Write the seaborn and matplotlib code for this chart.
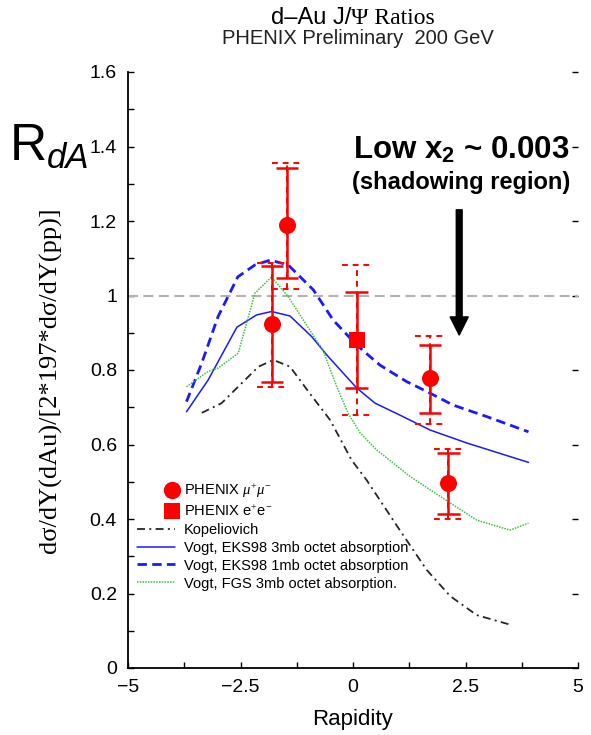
import numpy as np
import matplotlib
matplotlib.use("Agg")
import matplotlib.pyplot as plt
from matplotlib.lines import Line2D
from matplotlib.legend_handler import HandlerLine2D
import seaborn as sns

# ---------------- data ----------------
eks98_3mb_x = [-3.70, -3.22, -2.58, -2.14, -1.81, -1.40, -0.92, -0.58, 0.08, 0.49, 1.04, 1.71, 2.53, 3.90]
eks98_3mb_y = [0.688, 0.773, 0.915, 0.948, 0.957, 0.945, 0.890, 0.840, 0.752, 0.711, 0.679, 0.639, 0.604, 0.552]

eks98_1mb_x = [-3.70, -3.36, -3.00, -2.56, -2.18, -1.84, -1.44, -0.88, -0.44, 0.08, 0.60, 1.19, 1.71, 2.22, 2.97, 3.90]
eks98_1mb_y = [0.715, 0.819, 0.943, 1.050, 1.082, 1.095, 1.082, 1.015, 0.934, 0.867, 0.813, 0.769, 0.738, 0.706, 0.675, 0.634]

fgs_x = [-3.70, -3.22, -3.00, -2.55, -2.18, -1.81, -1.44, -0.96, -0.67, -0.36, -0.11, 0.16, 0.53, 1.27, 2.16, 2.75, 3.49, 3.90]
fgs_y = [0.755, 0.796, 0.805, 0.845, 1.006, 1.050, 0.997, 0.907, 0.854, 0.755, 0.684, 0.631, 0.585, 0.514, 0.443, 0.397, 0.370, 0.389]

kop_x = [-3.36, -2.92, -2.47, -2.10, -1.77, -1.40, -0.96, -0.51, -0.03, 0.30, 1.04, 1.64, 2.16, 2.75, 3.53]
kop_y = [0.685, 0.711, 0.765, 0.809, 0.827, 0.809, 0.737, 0.666, 0.558, 0.505, 0.370, 0.263, 0.193, 0.142, 0.115]

mu_x = [-1.80, -1.47, 1.71, 2.12]
mu_y = [0.924, 1.190, 0.778, 0.497]
mu_stat_lo = [0.768, 1.047, 0.684, 0.413]
mu_stat_hi = [1.079, 1.342, 0.867, 0.577]
mu_sys_lo = [0.754, 1.017, 0.655, 0.400]
mu_sys_hi = [1.087, 1.356, 0.891, 0.588]

ee_x = [0.08]
ee_y = [0.881]
ee_stat_lo = [0.752]
ee_stat_hi = [1.010]
ee_sys_lo = [0.679]
ee_sys_hi = [1.082]

x_ticks = [-5, -2.5, 0, 2.5, 5]
x_tick_labels = ["\u22125", "\u22122.5", "0", "2.5", "5"]
y_ticks = [0, 0.2, 0.4, 0.6, 0.8, 1.0, 1.2, 1.4, 1.6]
y_tick_labels = ["0", "0.2", "0.4", "0.6", "0.8", "1", "1.2", "1.4", "1.6"]

arrow_x = 2.36
arrow_top = 1.23
arrow_bottom = 0.894

legend_labels = [r"PHENIX $\mu^{+}\mu^{-}$", r"PHENIX e$^{+}$e$^{-}$", "Kopeliovich",
                 "Vogt, EKS98 3mb octet absorption", "Vogt, EKS98 1mb octet absorption",
                 "Vogt, FGS 3mb octet absorption."]

# ---------------- style ----------------
sns.set_theme(style="ticks")
plt.rcParams["font.family"] = ["Liberation Sans", "DejaVu Sans"]
plt.rcParams["mathtext.fontset"] = "custom"
plt.rcParams["mathtext.rm"] = "Liberation Serif"
plt.rcParams["mathtext.it"] = "Liberation Serif:italic"
plt.rcParams["mathtext.bf"] = "Liberation Sans:bold"

W, H = 591, 735
fig = plt.figure(figsize=(W / 100, H / 100), dpi=100)
fig.patch.set_facecolor("white")
ax = fig.add_axes([128 / W, 67 / H, 450 / W, 596 / H])
ax.set_facecolor("white")

RED = "#ff0000"
BLUE = "#1a1aff"
GREEN = "#40c040"
BLACK = "#262626"

# reference line
ax.axhline(1.0, color="#b3b3b3", lw=1.5, dashes=(4.8, 2.6), zorder=1)

# theory curves
sns.lineplot(x=kop_x, y=kop_y, ax=ax, color=BLACK, lw=1.3, sort=False, estimator=None, zorder=2)
ax.lines[-1].set_dashes((4.4, 2.4, 1.1, 2.4))
sns.lineplot(x=eks98_3mb_x, y=eks98_3mb_y, ax=ax, color=BLUE, lw=1.1, sort=False, estimator=None, zorder=2)
sns.lineplot(x=eks98_1mb_x, y=eks98_1mb_y, ax=ax, color=BLUE, lw=2.0, sort=False, estimator=None, zorder=2)
ax.lines[-1].set_dashes((3.4, 1.9))
sns.lineplot(x=fgs_x, y=fgs_y, ax=ax, color=GREEN, lw=1.1, sort=False, estimator=None, zorder=2)
ax.lines[-1].set_dashes((1.0, 0.8))

# error bars
CAP_STAT = 0.25
CAP_SYS = 0.33


def draw_errors(xs, slo, shi, ylo, yhi):
    xs = np.asarray(xs)
    ax.vlines(xs, ylo, yhi, colors=RED, lw=1.4, linestyles=(0, (3.0, 2.5)), zorder=3)
    ax.hlines(ylo, xs - CAP_SYS, xs + CAP_SYS, colors=RED, lw=1.4, linestyles=(0, (3.0, 2.5)), zorder=3)
    ax.hlines(yhi, xs - CAP_SYS, xs + CAP_SYS, colors=RED, lw=1.4, linestyles=(0, (3.0, 2.5)), zorder=3)
    ax.vlines(xs, slo, shi, colors=RED, lw=1.8, zorder=4)
    ax.hlines(slo, xs - CAP_STAT, xs + CAP_STAT, colors=RED, lw=1.8, zorder=4)
    ax.hlines(shi, xs - CAP_STAT, xs + CAP_STAT, colors=RED, lw=1.8, zorder=4)


draw_errors(mu_x, mu_stat_lo, mu_stat_hi, mu_sys_lo, mu_sys_hi)
draw_errors(ee_x, ee_stat_lo, ee_stat_hi, ee_sys_lo, ee_sys_hi)

sns.scatterplot(x=mu_x, y=mu_y, ax=ax, marker="o", s=150, color=RED, edgecolor=RED, linewidth=0, zorder=5)
sns.scatterplot(x=ee_x, y=ee_y, ax=ax, marker="s", s=120, color=RED, edgecolor=RED, linewidth=0, zorder=5)

# arrow
ax.annotate("", xy=(arrow_x, arrow_bottom), xytext=(arrow_x, arrow_top),
            arrowprops=dict(width=4.2, headwidth=13, headlength=13, facecolor="black",
                            edgecolor="black", shrink=0), zorder=6)

# axes
ax.set_xlim(-5, 5)
ax.set_ylim(0, 1.6)
ax.set_xticks(x_ticks)
ax.set_xticklabels(x_tick_labels)
ax.set_yticks(y_ticks)
ax.set_yticklabels(y_tick_labels)
ax.set_xticks(np.arange(-3.75, 5, 2.5), minor=True)
ax.set_yticks(np.arange(0.1, 1.6, 0.2), minor=True)
for s in ["top", "right"]:
    ax.spines[s].set_visible(False)
for s in ["left", "bottom"]:
    ax.spines[s].set_linewidth(1.3)
    ax.spines[s].set_color("black")
ax.tick_params(which="both", direction="in", length=4.5, width=1.0, color="black",
               labelsize=14, labelcolor="black", pad=8)
ax.tick_params(axis="y", which="major", right=True)
for t in ax.yaxis.get_major_ticks():
    t.tick2line.set_color("#c8c8c8")
ax.set_xlabel("Rapidity", fontsize=16, labelpad=9, color="black")
ax.set_ylabel("")

fig.text(50 / W, 1 - 380 / H, "d\u03c3/dY(dAu)/[2*197*d\u03c3/dY(pp)]", rotation=90,
         ha="center", va="center", fontsize=19, family=["Liberation Serif", "DejaVu Serif"], color="black")


# legend: markers sit at the right end of the handle box, next to the text
class RightMarker(HandlerLine2D):
    def get_xdata(self, legend, xdescent, ydescent, width, height, fontsize):
        m = -xdescent + width - 2.0
        return np.array([m - 0.5, m + 0.5]), np.array([m])


h_mu = Line2D([], [], marker="o", ls="none", color=RED, markersize=12.5, markeredgewidth=0)
h_ee = Line2D([], [], marker="s", ls="none", color=RED, markersize=11, markeredgewidth=0)
handles = [
    h_mu,
    h_ee,
    Line2D([], [], color=BLACK, lw=1.3, dashes=(4.4, 2.4, 1.1, 2.4)),
    Line2D([], [], color=BLUE, lw=1.1),
    Line2D([], [], color=BLUE, lw=2.0, dashes=(3.4, 1.9)),
    Line2D([], [], color=GREEN, lw=1.1, dashes=(1.0, 0.8)),
]
leg = ax.legend(handles, legend_labels, loc="upper left", bbox_to_anchor=(0.02, 0.313),
                frameon=False, fontsize=10.5, handlelength=2.6, handletextpad=0.6,
                labelspacing=0.27, borderpad=0, borderaxespad=0, markerfirst=True,
                handler_map={h_mu: RightMarker(), h_ee: RightMarker()})
for t in leg.get_texts():
    t.set_color("black")

# titles
fig.text(351 / W, 1 - 18 / H, "d\u2013Au J/", ha="right", va="center", fontsize=17, color="black")
fig.text(351 / W, 1 - 18 / H, "\u03a8 Ratios", ha="left", va="center", fontsize=17,
         family=["Liberation Serif", "DejaVu Serif"], color="black")
fig.text(358 / W, 1 - 39 / H, "PHENIX Preliminary  200 GeV", ha="center", va="center",
         fontsize=14.5, color="#222222")

# annotations
fig.text(461 / W, 1 - 150 / H, r"Low x$_\mathbf{2}$ ~ 0.003", ha="center", va="center",
         fontsize=22.5, fontweight="bold", color="black")
fig.text(461 / W, 1 - 183 / H, "(shadowing region)", ha="center", va="center",
         fontsize=17, fontweight="bold", color="black")

fig.text(10 / W, 1 - 160 / H, "R", ha="left", va="baseline", fontsize=37, color="black")
fig.text(47 / W, 1 - 168 / H, "dA", ha="left", va="baseline", fontsize=25, color="black",
         style="italic")

fig.savefig("out.png", dpi=100, facecolor="white")
